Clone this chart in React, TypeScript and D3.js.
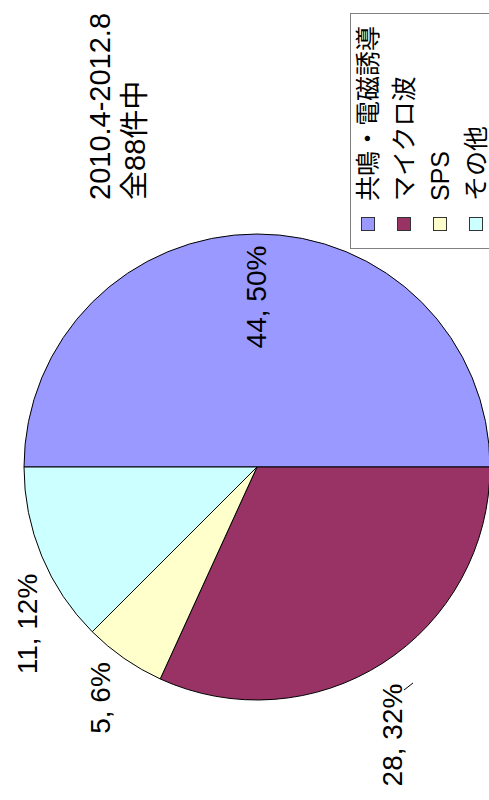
import React from "react";
import * as d3 from "d3";

const categories = ["共鳴・電磁誘導", "マイクロ波", "SPS", "その他"];
const counts = [44, 28, 5, 11];
const percentLabels = ["50%", "32%", "6%", "12%"];
const colors = ["#9999FF", "#993366", "#FFFFCC", "#CCFFFF"];
const titleLines = ["2010.4-2012.8", "全88件中"];

const W = 489;
const H = 800;
const FONT = "'Liberation Sans', Arial, 'Noto Sans CJK JP', sans-serif";

export default function App() {
  const cx = 257;
  const cy = 467;
  const r = 233;
  const pie = d3
    .pie<number>()
    .sort(null)
    .value((d) => d)
    .startAngle(-Math.PI / 2)
    .endAngle((3 * Math.PI) / 2);
  const arcs = pie(counts);
  const arc = d3.arc<d3.PieArcDatum<number>>().innerRadius(0).outerRadius(r);

  // label centers (screen coords)
  const labelPos: [number, number][] = [
    [256, 297],
    [392, 735],
    [100, 698],
    [27, 624],
  ];

  const legendBaseX = 377;
  const legendStep = 36;

  return (
    <svg
      width={W}
      height={H}
      style={{ position: "absolute", left: 0, top: 0, background: "#fff" }}
      fontFamily={FONT}
    >
      <rect x={0} y={0} width={W} height={H} fill="#fff" />
      <g transform={`translate(${cx},${cy})`}>
        {arcs.map((a, i) => (
          <path key={i} d={arc(a) || ""} fill={colors[i]} stroke="#000" strokeWidth={1} />
        ))}
      </g>
      {arcs.map((a, i) => (
        <text
          key={i}
          transform={`translate(${labelPos[i][0]},${labelPos[i][1]}) rotate(-90)`}
          textAnchor="middle"
          dominantBaseline="central"
          fontSize={28}
          fill="#000"
        >
          {`${counts[i]}, ${percentLabels[i]}`}
        </text>
      ))}
      <line x1={404} y1={690} x2={413} y2={683} stroke="#000" strokeWidth={1} />
      {titleLines.map((t, i) => (
        <text
          key={i}
          transform={`translate(${110 + i * 35},200) rotate(-90)`}
          textAnchor="start"
          fontSize={29}
          fill="#000"
        >
          {t}
        </text>
      ))}
      <rect x={350.5} y={13.5} width={150} height={235} fill="#fff" stroke="#808080" strokeWidth={1} />
      {categories.map((c, i) => (
        <g key={i}>
          <rect
            x={legendBaseX - 16 + i * legendStep + 0.5}
            y={217.5}
            width={13}
            height={13}
            fill={colors[i]}
            stroke="#333"
            strokeWidth={1}
          />
          <text
            transform={`translate(${legendBaseX + i * legendStep},201) rotate(-90)`}
            textAnchor="start"
            fontSize={25}
            fill="#000"
          >
            {c}
          </text>
        </g>
      ))}
    </svg>
  );
}
